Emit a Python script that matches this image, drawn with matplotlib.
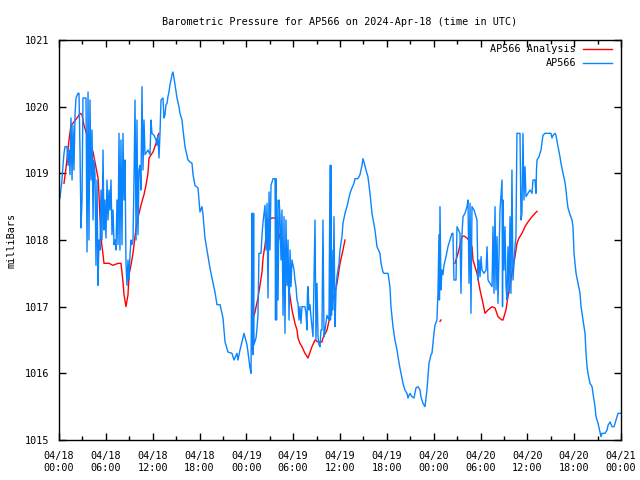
import matplotlib
matplotlib.use("Agg")
import matplotlib.pyplot as plt
import matplotlib.dates as mdates
from matplotlib.lines import Line2D
from datetime import datetime, timedelta
import numpy as np

START = datetime(2024, 4, 18)

# AP566 station readings: (hours since 04/18 00:00 UTC, mb)
ap566 = [
    (0.0, 1018.6), (0.13, 1018.63), (0.38, 1018.9), (0.51, 1019.12), (0.64, 1019.3),
    (0.77, 1019.4), (1.02, 1019.4), (1.15, 1019.12), (1.28, 1019.35), (1.41, 1018.98),
    (1.54, 1019.83), (1.67, 1018.9), (1.79, 1019.72), (1.92, 1019.05), (2.05, 1019.88),
    (2.18, 1020.13), (2.43, 1020.2), (2.56, 1020.2), (2.69, 1019.35), (2.82, 1018.18),
    (2.95, 1018.6), (3.07, 1020.13), (3.46, 1020.13), (3.59, 1017.82), (3.72, 1020.22),
    (3.84, 1018.0), (3.97, 1020.1), (4.1, 1018.9), (4.23, 1019.65), (4.36, 1018.3),
    (4.48, 1019.2), (4.61, 1018.98), (4.74, 1017.62), (4.87, 1018.9), (5.0, 1017.32),
    (5.12, 1018.0), (5.25, 1017.85), (5.38, 1018.75), (5.51, 1018.0), (5.64, 1019.35),
    (5.76, 1018.15), (5.89, 1018.6), (6.02, 1018.03), (6.15, 1018.9), (6.28, 1018.3),
    (6.41, 1018.75), (6.53, 1018.45), (6.66, 1018.9), (6.79, 1018.08), (6.92, 1018.45),
    (7.05, 1017.93), (7.17, 1018.0), (7.3, 1017.85), (7.43, 1018.6), (7.56, 1017.93),
    (7.69, 1019.6), (7.81, 1017.85), (7.94, 1019.5), (8.07, 1017.93), (8.2, 1019.6),
    (8.33, 1018.6), (8.46, 1019.2), (8.58, 1017.67), (8.71, 1017.32), (8.84, 1017.7),
    (8.97, 1017.4), (9.1, 1017.78), (9.22, 1018.0), (9.35, 1017.93), (9.48, 1018.0),
    (9.61, 1018.9), (9.74, 1020.1), (9.87, 1018.0), (9.99, 1019.8), (10.12, 1018.08),
    (10.25, 1019.05), (10.38, 1019.12), (10.5, 1018.75), (10.63, 1020.3), (10.76, 1019.05),
    (10.89, 1019.8), (11.02, 1019.28), (11.4, 1019.35), (11.66, 1019.28), (11.79, 1019.8),
    (11.91, 1019.6), (12.17, 1019.57), (12.43, 1019.5), (12.55, 1019.42), (12.68, 1019.57),
    (12.81, 1019.23), (12.94, 1019.6), (13.07, 1020.1), (13.32, 1020.13), (13.45, 1019.83),
    (13.58, 1019.88), (13.71, 1020.03), (13.84, 1020.05), (13.96, 1020.15), (14.09, 1020.22),
    (14.22, 1020.33), (14.35, 1020.4), (14.48, 1020.48), (14.6, 1020.52), (14.73, 1020.43),
    (14.86, 1020.33), (15.12, 1020.13), (15.37, 1020.0), (15.5, 1019.9), (15.76, 1019.8),
    (15.89, 1019.65), (16.14, 1019.4), (16.53, 1019.2), (16.78, 1019.17), (17.04, 1019.15),
    (17.17, 1018.98), (17.42, 1018.82), (17.81, 1018.78), (17.94, 1018.6), (18.06, 1018.42),
    (18.32, 1018.5), (18.45, 1018.38), (18.7, 1018.03), (19.09, 1017.75), (19.34, 1017.58),
    (19.6, 1017.43), (19.98, 1017.22), (20.24, 1017.03), (20.63, 1017.03), (21.01, 1016.83),
    (21.27, 1016.47), (21.65, 1016.32), (22.16, 1016.3), (22.42, 1016.2), (22.8, 1016.3),
    (22.93, 1016.2), (23.19, 1016.35), (23.44, 1016.47), (23.7, 1016.6), (24.08, 1016.43),
    (24.21, 1016.32), (24.47, 1016.08), (24.6, 1016.0), (24.73, 1018.4), (24.78, 1016.35),
    (24.83, 1018.4), (24.88, 1016.28), (24.93, 1018.4), (24.98, 1016.43), (25.24, 1016.53),
    (25.37, 1016.68), (25.49, 1016.87), (25.62, 1017.8), (25.88, 1017.8), (26.01, 1018.08),
    (26.14, 1018.27), (26.39, 1018.52), (26.52, 1017.85), (26.65, 1018.55), (26.78, 1017.13),
    (26.91, 1018.72), (27.03, 1017.85), (27.16, 1018.82), (27.29, 1018.87), (27.42, 1018.92),
    (27.68, 1018.92), (27.74, 1016.8), (27.8, 1018.92), (27.87, 1016.8), (27.93, 1018.6),
    (28.06, 1017.1), (28.19, 1018.6), (28.31, 1018.38), (28.44, 1017.7), (28.57, 1018.45),
    (28.7, 1016.87), (28.83, 1018.35), (28.95, 1016.6), (29.08, 1018.3), (29.21, 1017.32),
    (29.34, 1018.0), (29.47, 1016.8), (29.6, 1017.85), (29.72, 1017.3), (29.85, 1017.7),
    (30.11, 1017.55), (30.23, 1017.4), (30.36, 1017.3), (30.49, 1017.1), (30.62, 1017.05),
    (30.75, 1016.8), (30.87, 1017.0), (31.0, 1016.75), (31.13, 1017.0), (31.51, 1017.0),
    (31.64, 1016.9), (31.77, 1016.65), (31.83, 1017.2), (31.9, 1017.3), (32.03, 1016.95),
    (32.15, 1017.03), (32.28, 1016.85), (32.41, 1016.7), (32.54, 1016.55), (32.8, 1018.3),
    (32.92, 1016.5), (33.05, 1017.35), (33.18, 1016.55), (33.31, 1016.43), (33.44, 1016.4),
    (33.56, 1016.65), (33.69, 1016.65), (33.82, 1018.3), (33.95, 1016.55), (34.08, 1016.65),
    (34.33, 1016.87), (34.59, 1016.8), (34.72, 1019.12), (34.78, 1016.8), (34.84, 1019.12),
    (34.91, 1016.87), (34.97, 1017.85), (35.1, 1016.95), (35.23, 1018.35), (35.36, 1016.7),
    (35.49, 1017.25), (35.61, 1017.45), (35.87, 1017.65), (36.0, 1017.85), (36.25, 1018.05),
    (36.38, 1018.25), (36.64, 1018.4), (36.89, 1018.5), (37.28, 1018.7), (37.53, 1018.78),
    (37.79, 1018.85), (37.92, 1018.92), (38.3, 1018.92), (38.56, 1018.98), (38.69, 1019.05),
    (38.82, 1019.12), (38.94, 1019.22), (39.07, 1019.17), (39.33, 1019.05), (39.58, 1018.95),
    (39.84, 1018.7), (40.1, 1018.4), (40.48, 1018.15), (40.74, 1017.9), (41.12, 1017.8),
    (41.25, 1017.65), (41.51, 1017.52), (41.63, 1017.5), (42.15, 1017.5), (42.4, 1017.3),
    (42.53, 1017.0), (42.79, 1016.7), (43.04, 1016.5), (43.3, 1016.35), (43.43, 1016.25),
    (43.68, 1016.08), (44.07, 1015.85), (44.32, 1015.75), (44.58, 1015.7), (44.71, 1015.63),
    (44.96, 1015.7), (45.22, 1015.65), (45.48, 1015.63), (45.73, 1015.78), (45.99, 1015.8),
    (46.25, 1015.75), (46.37, 1015.65), (46.63, 1015.55), (46.89, 1015.5), (47.14, 1015.75),
    (47.4, 1016.15), (47.66, 1016.28), (47.78, 1016.3), (48.04, 1016.6), (48.17, 1016.72),
    (48.42, 1016.8), (48.55, 1017.2), (48.68, 1018.08), (48.74, 1017.1), (48.81, 1018.5),
    (48.94, 1017.25), (49.06, 1017.55), (49.19, 1017.48), (49.32, 1017.62), (49.58, 1017.75),
    (49.83, 1017.9), (50.09, 1018.0), (50.35, 1018.1), (50.47, 1018.1), (50.6, 1017.4),
    (50.86, 1017.4), (50.99, 1018.2), (51.37, 1018.1), (51.5, 1017.2), (51.63, 1018.1),
    (51.76, 1018.35), (52.01, 1018.4), (52.27, 1018.5), (52.4, 1018.6), (52.53, 1017.35),
    (52.66, 1018.55), (52.78, 1016.9), (52.91, 1018.5), (53.17, 1018.45), (53.55, 1018.3),
    (53.68, 1017.4), (53.81, 1017.7), (53.94, 1017.45), (54.07, 1017.75), (54.19, 1017.55),
    (54.45, 1017.5), (54.71, 1017.55), (54.84, 1017.9), (54.96, 1017.4), (55.22, 1017.35),
    (55.48, 1017.3), (55.6, 1018.2), (55.73, 1017.2), (55.86, 1018.5), (55.99, 1017.25),
    (56.12, 1018.05), (56.24, 1017.05), (56.5, 1018.45), (56.76, 1018.9), (56.82, 1017.0),
    (56.88, 1018.6), (57.01, 1017.55), (57.14, 1018.2), (57.27, 1017.3), (57.39, 1017.1),
    (57.52, 1017.9), (57.65, 1017.2), (57.78, 1018.35), (57.9, 1017.2), (58.03, 1019.05),
    (58.16, 1017.4), (58.29, 1017.65), (58.42, 1017.9), (58.54, 1018.05), (58.67, 1019.6),
    (59.06, 1019.6), (59.19, 1018.3), (59.31, 1018.4), (59.44, 1019.6), (59.57, 1018.6),
    (59.7, 1019.1), (59.83, 1018.65), (60.08, 1018.7), (60.34, 1018.75), (60.6, 1018.7),
    (60.72, 1018.9), (60.98, 1018.9), (61.11, 1018.7), (61.17, 1019.05), (61.24, 1019.2),
    (61.49, 1019.25), (61.75, 1019.35), (62.0, 1019.57), (62.26, 1019.6), (63.03, 1019.6),
    (63.16, 1019.53), (63.29, 1019.57), (63.54, 1019.6), (63.67, 1019.57), (63.93, 1019.4),
    (64.18, 1019.25), (64.31, 1019.15), (64.57, 1019.0), (64.82, 1018.87), (64.95, 1018.75),
    (65.08, 1018.6), (65.21, 1018.48), (65.47, 1018.38), (65.72, 1018.3), (65.85, 1018.2),
    (65.98, 1017.8), (66.11, 1017.65), (66.24, 1017.5), (66.49, 1017.35), (66.75, 1017.2),
    (66.88, 1017.0), (67.13, 1016.8), (67.39, 1016.6), (67.52, 1016.3), (67.65, 1016.1),
    (67.77, 1016.0), (68.03, 1015.85), (68.29, 1015.8), (68.41, 1015.7), (68.67, 1015.5),
    (68.8, 1015.35), (69.06, 1015.25), (69.31, 1015.12), (69.44, 1015.05), (69.57, 1015.1),
    (69.96, 1015.1), (70.21, 1015.15), (70.34, 1015.22), (70.6, 1015.27), (70.85, 1015.2),
    (71.11, 1015.2), (71.37, 1015.3), (71.62, 1015.4), (72.0, 1015.4),
]

# analysis segments (gaps between them)
analysis_day1 = [
    (0.64, 1018.85), (0.9, 1019.08), (1.28, 1019.5), (1.54, 1019.72), (1.92, 1019.77),
    (2.43, 1019.85), (2.69, 1019.9), (2.95, 1019.88), (3.2, 1019.72), (3.59, 1019.57),
    (3.84, 1019.5), (4.36, 1019.32), (4.61, 1019.17), (5.0, 1018.93), (5.12, 1018.68),
    (5.38, 1018.03), (5.64, 1017.78), (5.76, 1017.65), (6.41, 1017.65), (6.92, 1017.62),
    (7.56, 1017.65), (7.94, 1017.65), (8.2, 1017.37), (8.33, 1017.18), (8.58, 1017.0),
    (8.84, 1017.18), (8.97, 1017.48), (9.22, 1017.62), (9.48, 1017.8), (9.87, 1018.18),
    (10.12, 1018.33), (10.25, 1018.4), (10.5, 1018.52), (10.76, 1018.63), (10.89, 1018.68),
    (11.14, 1018.82), (11.4, 1019.0), (11.53, 1019.23), (12.04, 1019.32), (12.43, 1019.45),
    (12.68, 1019.57), (12.81, 1019.6),
]
analysis_day2 = [
    (24.73, 1016.77), (25.11, 1016.92), (25.49, 1017.13), (25.75, 1017.32), (26.01, 1017.52),
    (26.14, 1017.73), (26.39, 1017.92), (26.65, 1018.18), (26.78, 1018.3), (27.29, 1018.33),
    (27.93, 1018.33), (28.06, 1018.15), (28.57, 1017.9), (28.95, 1017.7), (29.34, 1017.35),
    (29.6, 1017.15), (29.85, 1016.95), (30.23, 1016.75), (30.49, 1016.65), (30.62, 1016.53),
    (30.87, 1016.45), (31.13, 1016.4), (31.51, 1016.3), (31.9, 1016.23), (32.41, 1016.4),
    (32.8, 1016.5), (33.18, 1016.47), (33.69, 1016.47), (33.82, 1016.53), (34.33, 1016.65),
    (34.72, 1016.85), (35.1, 1017.1), (35.62, 1017.35), (36.0, 1017.65), (36.38, 1017.85),
    (36.64, 1018.0),
]
analysis_day3a = [(48.81, 1016.78), (48.94, 1016.8)]
analysis_day3 = [
    (50.73, 1017.65), (51.12, 1017.8), (51.63, 1018.05), (51.88, 1018.06), (52.27, 1018.03),
    (52.66, 1017.97), (52.91, 1017.9), (53.04, 1017.7), (53.55, 1017.5), (53.94, 1017.25),
    (54.32, 1017.05), (54.58, 1016.9), (54.96, 1016.95), (55.47, 1017.0), (55.86, 1016.98),
    (56.24, 1016.85), (56.75, 1016.8), (56.88, 1016.8), (57.26, 1016.95), (57.52, 1017.15),
    (58.03, 1017.5), (58.42, 1017.75), (58.67, 1017.95), (58.93, 1018.03), (59.31, 1018.1),
    (59.7, 1018.2), (60.08, 1018.27), (60.6, 1018.35), (60.98, 1018.4), (61.24, 1018.43),
]

RED = "#ff0000"
BLUE = "#0a84ff"
FONT = "DejaVu Sans Mono"
FS = 7.3


def to_dates(pairs):
    return [START + timedelta(hours=h) for h, _ in pairs], [v for _, v in pairs]


fig = plt.figure(figsize=(6.4, 4.8), dpi=100)
ax = fig.add_axes([59 / 640, 40 / 480, 562 / 640, 400 / 480])

for seg in (analysis_day1, analysis_day2, analysis_day3a, analysis_day3):
    t, v = to_dates(seg)
    ax.plot(t, v, color=RED, lw=1.0)

t, v = to_dates(ap566)
ax.plot(t, v, color=BLUE, lw=1.0)

ax.set_xlim(START, START + timedelta(days=3))
ax.set_ylim(1015, 1021)
ax.set_yticks(np.arange(1015, 1022, 1))
ax.xaxis.set_major_locator(mdates.HourLocator(byhour=range(0, 24, 6)))
ax.xaxis.set_minor_locator(mdates.HourLocator(byhour=range(0, 24, 3)))
ax.xaxis.set_major_formatter(mdates.DateFormatter("%m/%d\n%H:%M"))

ax.tick_params(which="both", direction="in", top=True, right=True, width=1.0,
               labelsize=FS, color="black")
ax.tick_params(which="major", length=5)
ax.tick_params(which="minor", length=3)
ax.tick_params(axis="x", pad=8)
ax.tick_params(axis="y", pad=7)
for lab in ax.get_xticklabels() + ax.get_yticklabels():
    lab.set_family(FONT)
for sp in ax.spines.values():
    sp.set_linewidth(1.0)

ax.set_title("Barometric Pressure for AP566 on 2024-Apr-18 (time in UTC)",
             fontsize=FS, family=FONT, pad=11)
fig.text(12 / 640, 0.5, "milliBars", rotation=90, ha="center", va="center",
         fontsize=FS, family=FONT)

# gnuplot-style key: right-aligned text followed by a line sample
for y, label, col in ((0.9775, "AP566 Analysis", RED), (0.9425, "AP566", BLUE)):
    ax.text(0.92, y, label, transform=ax.transAxes, ha="right", va="center",
            fontsize=FS, family=FONT)
    ax.add_line(Line2D([0.932, 0.984], [y, y], transform=ax.transAxes, color=col, lw=1.0))

fig.savefig("out.png", dpi=100)
